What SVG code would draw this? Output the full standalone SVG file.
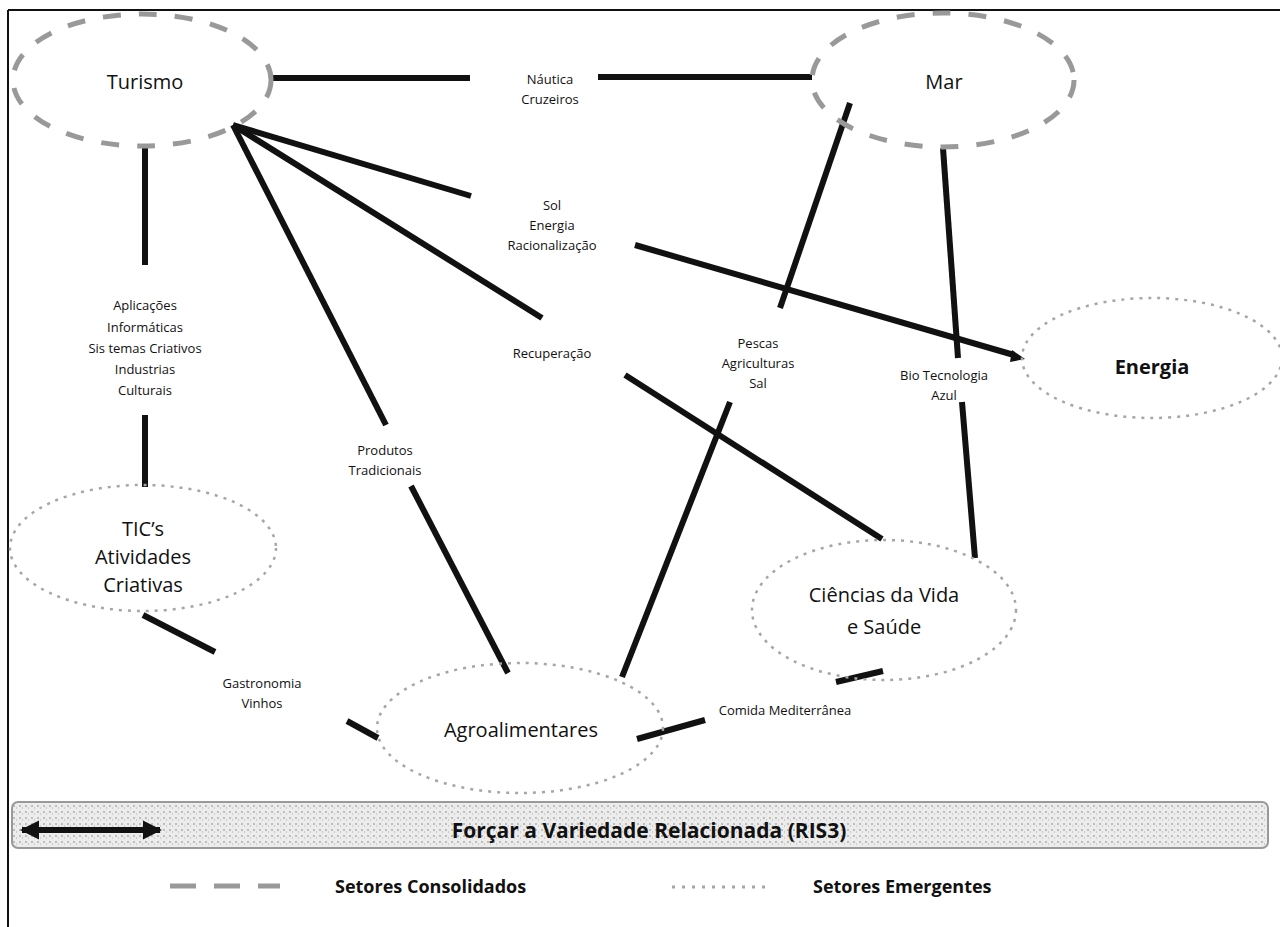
<svg xmlns="http://www.w3.org/2000/svg" width="1280" height="927" viewBox="0 0 1280 927">
<defs>
<style>
.cons{fill:none;stroke:#999;stroke-width:5;stroke-dasharray:18 18}
.emer{fill:none;stroke:#a6a6a6;stroke-width:2.5;stroke-dasharray:3 6}
.node{font-family:"Open Sans","Noto Sans",sans-serif;font-size:20px;fill:#111;text-anchor:middle}
.lbl{font-family:"Open Sans","Noto Sans",sans-serif;font-size:13px;fill:#111;text-anchor:middle}
.bold{font-family:"Open Sans","Noto Sans",sans-serif;font-weight:bold;fill:#111}
.conn line{stroke:#111;stroke-width:6;stroke-linecap:butt}
</style>
<pattern id="tex" width="6" height="6" patternUnits="userSpaceOnUse">
<rect width="6" height="6" fill="#ececec"/>
<rect x="1" y="1" width="2" height="2" fill="#bdbdbd"/>
<rect x="4" y="3" width="1" height="2" fill="#cccccc"/>
</pattern>
<marker id="ah" viewBox="0 0 10 10" refX="9" refY="5" markerWidth="3.2" markerHeight="3.2" orient="auto-start-reverse">
<path d="M0,0 L10,5 L0,10 z" fill="#111"/>
</marker>
</defs>
<rect width="1280" height="927" fill="#fff"/>
<g id="frame" stroke="#111" stroke-width="2" fill="none">
<line x1="8" y1="10" x2="1280" y2="10"/>
<line x1="8" y1="10" x2="8" y2="927"/>
</g>

<g class="conn" id="connectors">
<line x1="272" y1="78" x2="470" y2="78"/>
<line x1="598" y1="77" x2="812" y2="77"/>
<line x1="233" y1="125" x2="471" y2="196"/>
<line x1="233" y1="125" x2="542" y2="318"/>
<line x1="233" y1="125" x2="386" y2="425"/>
<line x1="411" y1="486" x2="508" y2="673"/>
<line x1="145" y1="145" x2="145" y2="265"/>
<line x1="145" y1="415" x2="145" y2="487"/>
<line x1="635" y1="245" x2="1014" y2="355"/>
<line x1="850" y1="103" x2="780" y2="308"/>
<line x1="730" y1="402" x2="622" y2="677"/>
<line x1="943" y1="148" x2="958" y2="358"/>
<line x1="962" y1="402" x2="975" y2="558"/>
<line x1="625" y1="375" x2="882" y2="539"/>
<line x1="143" y1="615" x2="215" y2="652"/>
<line x1="347" y1="721" x2="378" y2="738"/>
<line x1="637" y1="739" x2="705" y2="720"/>
<line x1="836" y1="682" x2="883" y2="671"/>
<path d="M1012,350 L1025,359 L1010,362 z" fill="#111"/>
</g>

<g id="turismo">
<ellipse class="cons" cx="142" cy="80" rx="129" ry="66"/>
<text class="node" x="145" y="89">Turismo</text>
</g>
<g id="mar">
<ellipse class="cons" cx="943" cy="80" rx="131" ry="67"/>
<text class="node" x="944" y="89">Mar</text>
</g>
<g id="energia">
<ellipse class="emer" cx="1152" cy="358" rx="130" ry="60"/>
<text class="bold" x="1152" y="374" font-size="20" text-anchor="middle">Energia</text>
</g>
<g id="tics">
<ellipse class="emer" cx="143" cy="548" rx="133" ry="63"/>
<text class="node" x="143" y="536">TIC’s</text>
<text class="node" x="143" y="564">Atividades</text>
<text class="node" x="143" y="592">Criativas</text>
</g>
<g id="ciencias">
<ellipse class="emer" cx="884" cy="610" rx="132" ry="70"/>
<text class="node" x="884" y="602">Ciências da Vida</text>
<text class="node" x="884" y="634">e Saúde</text>
</g>
<g id="agro">
<ellipse class="emer" cx="520" cy="728" rx="143" ry="65"/>
<text class="node" x="521" y="737">Agroalimentares</text>
</g>

<g id="labels">
<text class="lbl" x="550" y="84">Náutica</text>
<text class="lbl" x="550" y="104">Cruzeiros</text>
<text class="lbl" x="552" y="210">Sol</text>
<text class="lbl" x="552" y="230">Energia</text>
<text class="lbl" x="552" y="250">Racionalização</text>
<text class="lbl" x="552" y="358">Recuperação</text>
<text class="lbl" x="145" y="310">Aplicações</text>
<text class="lbl" x="145" y="332">Informáticas</text>
<text class="lbl" x="145" y="353">Sis temas Criativos</text>
<text class="lbl" x="145" y="374">Industrias</text>
<text class="lbl" x="145" y="395">Culturais</text>
<text class="lbl" x="385" y="455">Produtos</text>
<text class="lbl" x="385" y="475">Tradicionais</text>
<text class="lbl" x="758" y="348">Pescas</text>
<text class="lbl" x="758" y="368">Agriculturas</text>
<text class="lbl" x="758" y="388">Sal</text>
<text class="lbl" x="944" y="380">Bio Tecnologia</text>
<text class="lbl" x="944" y="400">Azul</text>
<text class="lbl" x="262" y="688">Gastronomia</text>
<text class="lbl" x="262" y="708">Vinhos</text>
<text class="lbl" x="785" y="715">Comida Mediterrânea</text>
</g>

<g id="banner">
<rect x="12" y="802" width="1256" height="46" rx="6" fill="url(#tex)" stroke="#999" stroke-width="2"/>
<line x1="22" y1="830" x2="160" y2="830" stroke="#111" stroke-width="6" marker-start="url(#ah)" marker-end="url(#ah)"/>
<text class="bold" x="649" y="838" font-size="21" text-anchor="middle">Forçar a Variedade Relacionada (RIS3)</text>
</g>

<g id="legend">
<line x1="170" y1="886" x2="280" y2="886" stroke="#999" stroke-width="5" stroke-dasharray="26 18"/>
<text class="bold" x="335" y="893" font-size="18">Setores Consolidados</text>
<line x1="672" y1="887" x2="766" y2="887" stroke="#a6a6a6" stroke-width="3" stroke-dasharray="3 7"/>
<text class="bold" x="813" y="893" font-size="18">Setores Emergentes</text>
</g>
</svg>
